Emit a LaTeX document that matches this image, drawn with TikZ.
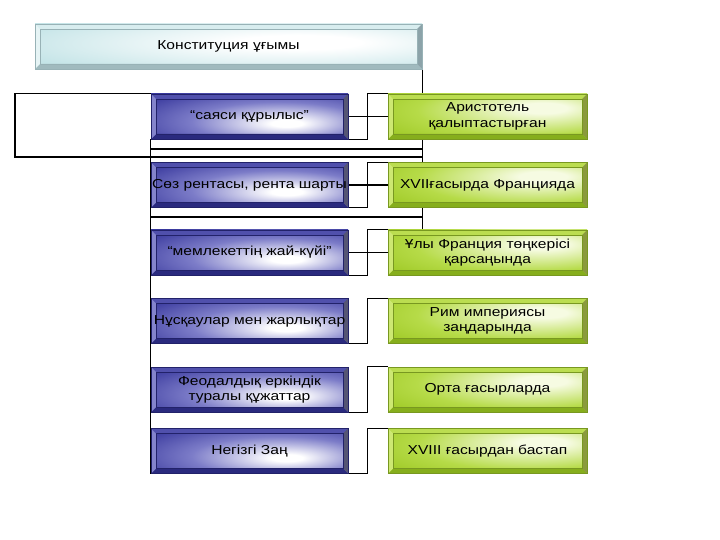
\documentclass[tikz,border=0pt]{standalone}
\usepackage{fontspec}
\setmainfont{Liberation Sans}[FakeStretch=1.2]
\usetikzlibrary{calc}
\pgfdeclarelayer{bg}
\pgfsetlayers{bg,main}

\definecolor{bfout}{HTML}{34349A}
\definecolor{bfmid}{HTML}{7C7CC8}
\definecolor{bvT}{HTML}{5050AC}
\definecolor{bvL}{HTML}{8484CC}
\definecolor{bvB}{HTML}{2A2A7E}
\definecolor{bvR}{HTML}{555574}
\definecolor{bline}{HTML}{22226A}

\definecolor{gfin}{HTML}{F6FBE2}
\definecolor{gfmid}{HTML}{B6DB48}
\definecolor{gfout}{HTML}{98C41C}
\definecolor{gvT}{HTML}{BBDD50}
\definecolor{gvL}{HTML}{CDE872}
\definecolor{gvB}{HTML}{86AE1C}
\definecolor{gvR}{HTML}{8A9A3C}
\definecolor{gline}{HTML}{789820}

\definecolor{tfout}{HTML}{C4E4E7}
\definecolor{tvT}{HTML}{D8EDEF}
\definecolor{tvL}{HTML}{E6F4F5}
\definecolor{tvB}{HTML}{A0BABE}
\definecolor{tvR}{HTML}{8CA3A9}
\definecolor{tline}{HTML}{98B2B6}

\pgfdeclareradialshading{blueface}{\pgfpoint{10bp}{-8bp}}{color(0bp)=(white); color(4bp)=(white); color(22bp)=(bfmid); color(40bp)=(bfout); color(80bp)=(bfout)}
\pgfdeclareradialshading{greenface}{\pgfpoint{15bp}{10bp}}{color(0bp)=(gfin); color(6bp)=(gfin); color(28bp)=(gfmid); color(46bp)=(gfout); color(90bp)=(gfout)}
\pgfdeclareradialshading{titleface}{\pgfpoint{10bp}{5bp}}{color(0bp)=(white); color(8bp)=(white); color(36bp)=(tfout); color(90bp)=(tfout)}

\tikzset{
  bev/.style n args={5}{path picture={
    \fill[#1] (path picture bounding box.north west) -- (path picture bounding box.north east)
      -- ([shift={(-5pt,-5pt)}]path picture bounding box.north east) -- ([shift={(5pt,-5pt)}]path picture bounding box.north west) -- cycle;
    \fill[#3] (path picture bounding box.south west) -- (path picture bounding box.south east)
      -- ([shift={(-5pt,5pt)}]path picture bounding box.south east) -- ([shift={(5pt,5pt)}]path picture bounding box.south west) -- cycle;
    \fill[#2] (path picture bounding box.north west) -- (path picture bounding box.south west)
      -- ([shift={(5pt,5pt)}]path picture bounding box.south west) -- ([shift={(5pt,-5pt)}]path picture bounding box.north west) -- cycle;
    \fill[#4] (path picture bounding box.north east) -- (path picture bounding box.south east)
      -- ([shift={(-5pt,5pt)}]path picture bounding box.south east) -- ([shift={(-5pt,-5pt)}]path picture bounding box.north east) -- cycle;
    \draw[#5, line width=0.5pt] ([shift={(5pt,-5pt)}]path picture bounding box.north west) rectangle ([shift={(-5pt,5pt)}]path picture bounding box.south east);
  }},
  boxbase/.style={minimum height=45pt, inner sep=0pt, align=center, font=\fontsize{13}{15.5}\selectfont, text=black},
  bluebox/.style={boxbase, minimum width=197pt, shading=blueface, draw=bline, line width=0.6pt, bev={bvT}{bvL}{bvB}{bvR}{bline}},
  greenbox/.style={boxbase, minimum width=199pt, shading=greenface, draw=gline, line width=0.6pt, bev={gvT}{gvL}{gvB}{gvR}{gline}},
  titlebox/.style={boxbase, minimum width=387pt, shading=titleface, draw=tline, line width=0.6pt, bev={tvT}{tvL}{tvB}{tvR}{tline}},
  conn/.style={draw=black, line width=1.3pt}
}

\begin{document}
\begin{tikzpicture}[x=1pt, y=-1pt]
\useasboundingbox (0,0) rectangle (720,540);

\node[titlebox] (title) at (228.5,46.5) {Конституция ұғымы};

\node[bluebox] (b1) at (249.5,116.5) {“саяси құрылыс”};
\node[bluebox] (b2) at (249.5,185) {Сөз рентасы, рента шарты};
\node[bluebox] (b3) at (249.5,252.5) {“мемлекеттің жай-күйі”};
\node[bluebox] (b4) at (249.5,321) {Нұсқаулар мен жарлықтар};
\node[bluebox] (b5) at (249.5,389.5) {Феодалдық еркіндік\\туралы құжаттар};
\node[bluebox] (b6) at (249.5,451) {Негізгі Заң};

\node[greenbox] (g1) at (487.5,116.5) {Аристотель\\қалыптастырған};
\node[greenbox] (g2) at (487.5,185) {XVIIғасырда Францияда};
\node[greenbox] (g3) at (487.5,252.5) {Ұлы Франция төңкерісі\\қарсаңында};
\node[greenbox] (g4) at (487.5,321) {Рим империясы\\заңдарында};
\node[greenbox] (g5) at (487.5,389.5) {Орта ғасырларда};
\node[greenbox] (g6) at (487.5,451) {XVIII ғасырдан бастап};

\coordinate (L) at (15,157);
\coordinate (h1) at (151,149);
\coordinate (h2) at (151,217);

\begin{pgfonlayer}{bg}
\draw[conn] (title.south east) -- (title.south east |- b3.north);
\draw[conn] (b1.north west) -| (L) -- (L -| title.south east);
\draw[conn] (h1) -- (h1 -| title.south east);
\draw[conn] (h2) -- (h2 -| title.south east);
\draw[conn] (b1.south west) -- (b6.south west);
\foreach \i in {1,...,6}{
  \draw[conn] (g\i.north west) -- ++(-20,0) |- (b\i.south east);
}
\foreach \i in {1,2,3}{
  \draw[conn] (b\i.east) -- (g\i.west);
}
\end{pgfonlayer}
\end{tikzpicture}
\end{document}
